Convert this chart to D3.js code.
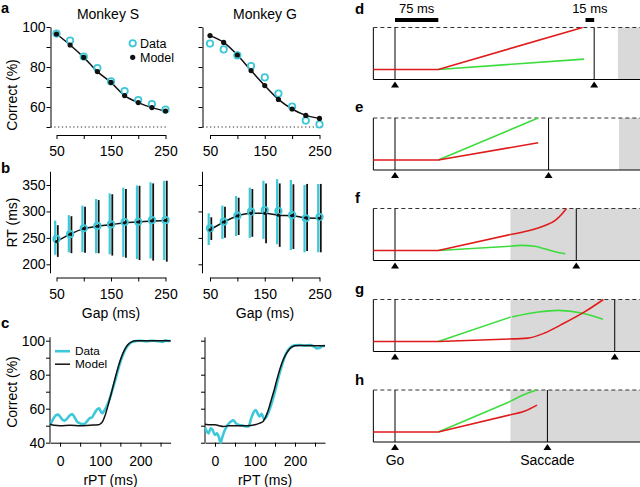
<!DOCTYPE html>
<html><head><meta charset="utf-8">
<script src="https://cdn.jsdelivr.net/npm/d3@7"></script>
<style>body{margin:0;background:#fff}svg{display:block}text{font-family:"Liberation Sans",Arial,sans-serif}</style>
</head><body><svg id="fig" width="640" height="487"></svg>
<script>
// ---------- DATA ----------
const gaps=[50,75,100,125,150,175,200,225,250];
// panel a: % correct vs gap
const aSData =[96.7,93.2,85.2,79.5,72.8,68.0,63.5,61.5,58.7];
const aSModel=[96.5,91.0,84.8,77.7,72.3,65.7,62.2,59.7,58.0];
const aGData =[91.7,88.8,85.8,80.5,74.8,66.7,60.2,53.2,51.3];
const aGModel=[95.7,92.3,86.0,78.2,70.7,63.8,59.0,55.8,54.3];
// panel b: RT mean and spread
const bSDataMean =[248,257,268,272.5,275.5,280,280.5,283.5,283.5];
const bSDataLo   =[218,222.5,223,221,219,214,210,211,208];
const bSDataHi   =[282.5,293,311,323.5,334,345,349,355,358];
const bSModelMean=[243,257,267.5,272,275,278.5,280,282,283];
const bSModelLo  =[214,221,222,221,216.5,212.5,208,207,205];
const bSModelHi  =[274,291,309,321.5,332.5,342.5,348.5,353,358];
const bGDataMean =[268,280.6,292,299.5,302.7,300.8,293,287,289.5];
const bGDataLo   =[236.5,248,253.5,250,248,238,227,222.7,222.7];
const bGDataHi   =[296.5,311,329,345,358,361,359.5,350,352];
const bGModelMean=[265,280,291.5,296.5,296.5,293,292,288,287];
const bGModelLo  =[246,250,255.4,252,240,233,229,225,222.7];
const bGModelHi  =[289,309,326,342.4,353,353,351.4,352,352];
// panel c: % correct vs rPT  [rPT, %]
const cSModel=[[-25,51],[-15,50.2],[0,50],[25,50.3],[50,50],[75,50.3],[95,50.5],[100,51],[106,52.5],[112,56],[120,62.5],[128,69.5],[136,77],[144,84],[152,90],[160,94.5],[168,97.5],[178,99.3],[190,100],[275,100]];
const cSData=[[-25,50.5],[-18,53.5],[-11,56],[-5,56.5],[1,55],[6,53.5],[11,53],[17,54],[24,56],[30,56.8],[36,55],[42,52.5],[48,51.5],[55,51],[61,51.2],[67,52.5],[73,54.3],[80,55],[86,57.5],[92,59.5],[97,60.2],[101,58.5],[105,57.3],[109,58.5],[113,60],[118,62.5],[125,67],[132,72.5],[140,79],[148,86],[156,91.5],[164,95.5],[172,98],[180,99.3],[190,99.8],[200,100],[215,99.6],[230,100],[245,99.7],[255,99.3],[262,100.2],[270,99.8],[275,100]];
const cGModel=[[-25,50.8],[-10,50.5],[0,50.5],[10,50],[21,49.5],[35,50],[60,50],[80,50],[100,50.5],[112,51.5],[120,52.5],[129,56.5],[135,60.5],[141,65.5],[148,71],[154,76.5],[160,81.5],[166,86],[172,89.5],[179,92.7],[186,95],[192,96.2],[200,97],[210,97.2],[275,97]];
const cGData=[[-25,49],[-20,46.5],[-16,45.5],[-11,48.5],[-6,47.5],[0,44.5],[5,45.5],[10,43],[14,40],[18,43],[23,46.5],[28,49],[33,50.8],[40,52.5],[46,53.2],[52,51.5],[58,50.5],[65,50.3],[71,50],[78,49.5],[84,49.6],[90,54],[96,57.7],[102,59.2],[107,57],[111,55.5],[117,57],[122,54],[128,55],[134,58],[140,62],[147,67.5],[154,74],[161,80.5],[168,86],[175,91],[183,94.5],[191,96.5],[200,97.3],[212,97.5],[225,97.2],[238,97.4],[248,96.5],[255,95.5],[262,95.8],[268,96.8],[275,97]];
// panels d-h: schematic accumulators [time from Go (ms), level (0 baseline, 1 threshold)]
const schemLabels=["d","e","f","g","h"];
const saccadeT=[345,266,314,380.6,264];
const grayStartT=[386,388,200,200,200];
const dRed=[[-37.5,0],[75,0],[325,1]];
const dGreen=[[75,0],[327.5,0.245]];
const eRed=[[-37.5,0],[75,0],[248,0.41]];
const eGreen=[[75,0],[248,1]];
const fRedLin=[[-37.5,0],[75,0],[200,0.38]];
const fRedCur=[[200,0.38],[231,0.47],[259,0.59],[277,0.71],[288,0.85],[297,1]];
const fGreenLin=[[75,0],[200,0.10]];
const fGreenCur=[[200,0.10],[219,0.12],[242,0.10],[259,0.04],[277,-0.03],[295,-0.08]];
const gRedLin=[[-37.5,0],[75,0],[200,0.06]];
const gRedCur=[[200,0.06],[230,0.08],[259,0.2],[288,0.4],[329,0.71],[361,1]];
const gGreenLin=[[75,0],[200,0.58]];
const gGreenCur=[[203,0.585],[248,0.70],[283,0.74],[323,0.68],[360,0.53]];
const hRedLin=[[-37.5,0],[75,0],[200,0.41]];
const hRedCur=[[200,0.41],[225,0.5],[246,0.64]];
const hGreenLin=[[75,0],[200,0.73]];
const hGreenCur=[[200,0.73],[222,0.88],[245,1.0]];

// ---------- DRAW ----------
const CY="#3cc8d8", BK="#111", RED="#e01b1b", GRN="#3ddc3d";
const FONT='"Liberation Sans",Arial,sans-serif';
const svg=d3.select("#fig");

function styleAxis(g,fs){
  g.attr("font-family",FONT).attr("font-size",fs||14);
  g.selectAll("path,line").attr("stroke","#000").attr("stroke-width",1);
  g.selectAll("text").attr("fill","#000");
}
function txt(x,y,s,o){
  o=o||{};
  const t=svg.append("text").attr("x",x).attr("y",y).text(s)
    .attr("font-size",o.fs||14).attr("text-anchor",o.anchor||"middle").attr("fill","#000");
  if(o.bold) t.attr("font-weight","bold");
  if(o.rot) t.attr("transform",`rotate(-90,${x},${y})`);
  return t;
}

// Panel a
function panelA(ax,xr,dataV,modelV,labels){
  const x=d3.scaleLinear().domain([50,250]).range(xr);
  const y=d3.scaleLinear().domain([50,100]).range([127,27]);
  svg.append("line").attr("x1",ax).attr("x2",xr[1]+2).attr("y1",y(50)).attr("y2",y(50))
    .attr("stroke","#222").attr("stroke-width",1.2).attr("stroke-dasharray","1.2,2.6");
  const ya=svg.append("g").attr("transform",`translate(${ax},0)`)
    .call(d3.axisLeft(y).tickValues([50,60,70,80,90,100]).tickSize(4).tickSizeOuter(0).tickPadding(1)
      .tickFormat(d=>labels&&d>=60&&d%20===0?d:""));
  styleAxis(ya);
  const xa=svg.append("g").attr("transform","translate(0,135)")
    .call(d3.axisBottom(x).tickValues([50,100,150,200,250]).tickSize(4).tickSizeOuter(0).tickPadding(7)
      .tickFormat(d=>d%100===50?d:""));
  styleAxis(xa);
  const line=d3.line().x((d,i)=>x(gaps[i])).y(d=>y(d)).curve(d3.curveMonotoneX);
  svg.append("path").datum(modelV).attr("d",line).attr("fill","none").attr("stroke",BK).attr("stroke-width",1.5);
  svg.append("g").selectAll("circle").data(dataV).join("circle")
    .attr("cx",(d,i)=>x(gaps[i])).attr("cy",d=>y(d)).attr("r",3.2)
    .attr("fill","none").attr("stroke",CY).attr("stroke-width",1.8);
  svg.append("g").selectAll("circle").data(modelV).join("circle")
    .attr("cx",(d,i)=>x(gaps[i])).attr("cy",d=>y(d)).attr("r",2.6).attr("fill",BK);
}
panelA(50.5,[56.5,165.5],aSData,aSModel,true);
panelA(202.5,[210,319.5],aGData,aGModel,false);
txt(108,19,"Monkey S");
txt(265,19,"Monkey G");
// legend a
svg.append("circle").attr("cx",132.7).attr("cy",43.3).attr("r",3.2).attr("fill","none").attr("stroke",CY).attr("stroke-width",1.8);
txt(140,47.6,"Data",{anchor:"start",fs:12.5});
svg.append("circle").attr("cx",132.7).attr("cy",57.3).attr("r",2.6).attr("fill",BK);
txt(140,61.6,"Model",{anchor:"start",fs:12.5});

// Panel b
function panelB(ax,xr,dm,dl,dh,mm,ml,mh,labels){
  const x=d3.scaleLinear().domain([50,250]).range(xr);
  const y=d3.scaleLinear().domain([200,350]).range([264.3,185]);
  const ya=svg.append("g").attr("transform",`translate(${ax},0)`)
    .call(d3.axisLeft(y).tickValues([200,250,300,350]).tickSize(4).tickSizeOuter(0).tickPadding(1)
      .tickFormat(d=>labels?d:""));
  ya.select(".domain").remove();
  styleAxis(ya);
  ya.append("line").attr("x1",0).attr("x2",0).attr("y1",y(375)).attr("y2",y(183)).attr("stroke","#000");
  const xa=svg.append("g").attr("transform","translate(0,277.5)")
    .call(d3.axisBottom(x).tickValues([50,100,150,200,250]).tickSize(4).tickSizeOuter(0).tickPadding(8)
      .tickFormat(d=>d%100===50?d:""));
  styleAxis(xa);
  const g=svg.append("g");
  g.selectAll(".cb").data(gaps).join("line").attr("x1",(d)=>x(d)-1.3).attr("x2",d=>x(d)-1.3)
    .attr("y1",(d,i)=>y(dl[i])).attr("y2",(d,i)=>y(dh[i])).attr("stroke",CY).attr("stroke-width",2.2);
  g.selectAll(".kb").data(gaps).join("line").attr("x1",(d)=>x(d)+1.3).attr("x2",d=>x(d)+1.3)
    .attr("y1",(d,i)=>y(ml[i])).attr("y2",(d,i)=>y(mh[i])).attr("stroke",BK).attr("stroke-width",1.8);
  const line=d3.line().x((d,i)=>x(gaps[i])).y(d=>y(d)).curve(d3.curveMonotoneX);
  svg.append("path").datum(mm).attr("d",line).attr("fill","none").attr("stroke",BK).attr("stroke-width",1.5);
  svg.append("g").selectAll("circle").data(dm).join("circle")
    .attr("cx",(d,i)=>x(gaps[i])).attr("cy",d=>y(d)).attr("r",3.2)
    .attr("fill","none").attr("stroke",CY).attr("stroke-width",1.8);
  svg.append("g").selectAll("circle").data(mm).join("circle")
    .attr("cx",(d,i)=>x(gaps[i])).attr("cy",d=>y(d)).attr("r",1.6).attr("fill",BK);
}
panelB(50.5,[56.5,165.5],bSDataMean,bSDataLo,bSDataHi,bSModelMean,bSModelLo,bSModelHi,true);
panelB(202.5,[210,319.5],bGDataMean,bGDataLo,bGDataHi,bGModelMean,bGModelLo,bGModelHi,false);
txt(111,318,"Gap (ms)");
txt(265,318,"Gap (ms)");

// Panel c
function panelC(xr,data,model,labels){
  const x=d3.scaleLinear().domain([-25,275]).range(xr);
  const y=d3.scaleLinear().domain([40,100]).range([442.7,340.7]);
  const ya=svg.append("g").attr("transform",`translate(${xr[0]},0)`)
    .call(d3.axisLeft(y).tickValues([40,50,60,70,80,90,100]).tickSize(4).tickSizeOuter(0).tickPadding(1)
      .tickFormat(d=>labels&&d%20===0?d:""));
  ya.select(".domain").remove();
  styleAxis(ya);
  ya.append("line").attr("x1",0).attr("x2",0).attr("y1",y(102)).attr("y2",y(40)).attr("stroke","#000");
  const xa=svg.append("g").attr("transform","translate(0,442.7)")
    .call(d3.axisBottom(x).tickValues([0,50,100,150,200,250]).tickSize(4).tickSizeOuter(0).tickPadding(9)
      .tickFormat(d=>d%100===0?d:""));
  styleAxis(xa);
  const line=d3.line().x(d=>x(d[0])).y(d=>y(d[1])).curve(d3.curveMonotoneX);
  svg.append("path").datum(data).attr("d",line).attr("fill","none").attr("stroke",CY).attr("stroke-width",2.6);
  svg.append("path").datum(model).attr("d",line).attr("fill","none").attr("stroke",BK).attr("stroke-width",1.5);
}
panelC([50,170.6],cSData,cSModel,true);
panelC([205,325],cGData,cGModel,false);
txt(110.5,485,"rPT (ms)");
txt(265,485,"rPT (ms)");
// legend c
svg.append("line").attr("x1",55).attr("x2",70).attr("y1",351.2).attr("y2",351.2).attr("stroke",CY).attr("stroke-width",2.6);
txt(75,355.2,"Data",{anchor:"start",fs:11.8});
svg.append("line").attr("x1",55).attr("x2",70).attr("y1",364.2).attr("y2",364.2).attr("stroke",BK).attr("stroke-width",1.5);
txt(75,368.2,"Model",{anchor:"start",fs:11.8});

// y labels
txt(16.5,95,"Correct (%)",{rot:true});
txt(16.5,222.5,"RT (ms)",{rot:true});
txt(16.5,392,"Correct (%)",{rot:true});
// panel letters a-c
txt(1,13,"a",{anchor:"start",bold:true,fs:14.5});
txt(1,173,"b",{anchor:"start",bold:true,fs:15});
txt(1,328,"c",{anchor:"start",bold:true,fs:15});

// Schematic panels d-h
const xs=d3.scaleLinear().domain([0,75]).range([395,438.3]);
const tops=[27.5,118,208.5,299.5,390];
const letterY=[14,112,203,294,385];
const traces=[
  {lin:[[dGreen,GRN],[dRed,RED]],cur:[]},
  {lin:[[eGreen,GRN],[eRed,RED]],cur:[]},
  {lin:[[fGreenLin,GRN],[fRedLin,RED]],cur:[[fGreenCur,GRN],[fRedCur,RED]]},
  {lin:[[gGreenLin,GRN],[gRedLin,RED]],cur:[[gGreenCur,GRN],[gRedCur,RED]]},
  {lin:[[hGreenLin,GRN],[hRedLin,RED]],cur:[[hGreenCur,GRN],[hRedCur,RED]]}
];
const boxL=xs(-37.5);
schemLabels.forEach((lab,i)=>{
  const top=tops[i], bot=top+52;
  const ys=d3.scaleLinear().domain([-0.24,1]).range([bot,top]);
  const g=svg.append("g");
  g.append("rect").attr("x",xs(grayStartT[i])).attr("y",top).attr("width",640-xs(grayStartT[i])).attr("height",bot-top).attr("fill","#d9d9d9");
  g.append("line").attr("x1",boxL).attr("x2",boxL).attr("y1",top).attr("y2",bot).attr("stroke","#000");
  g.append("line").attr("x1",boxL).attr("x2",640).attr("y1",bot).attr("y2",bot).attr("stroke","#000");
  g.append("line").attr("x1",boxL).attr("x2",640).attr("y1",top).attr("y2",top).attr("stroke","#333").attr("stroke-dasharray","4,3");
  [0,saccadeT[i]].forEach(t=>{
    const X=xs(t);
    g.append("line").attr("x1",X).attr("x2",X).attr("y1",top).attr("y2",bot).attr("stroke","#000");
    g.append("path").attr("d",`M${X},${bot+2}L${X+4},${bot+8}L${X-4},${bot+8}Z`).attr("fill","#000");
  });
  const lin=d3.line().x(d=>xs(d[0])).y(d=>ys(d[1]));
  const cur=d3.line().x(d=>xs(d[0])).y(d=>ys(d[1])).curve(d3.curveMonotoneX);
  traces[i].lin.forEach(([pts,c])=>g.append("path").datum(pts).attr("d",lin).attr("fill","none").attr("stroke",c).attr("stroke-width",1.6));
  traces[i].cur.forEach(([pts,c])=>g.append("path").datum(pts).attr("d",cur).attr("fill","none").attr("stroke",c).attr("stroke-width",1.6));
  txt(355,letterY[i],lab,{anchor:"start",bold:true,fs:15});
});
// scale bars
svg.append("rect").attr("x",xs(0)).attr("y",18).attr("width",xs(75)-xs(0)).attr("height",4).attr("fill","#000");
svg.append("rect").attr("x",xs(saccadeT[0]-15)).attr("y",18).attr("width",xs(15)-xs(0)).attr("height",4).attr("fill","#000");
txt(xs(37.5),13,"75 ms",{fs:13});
txt(xs(saccadeT[0]-7.5),13,"15 ms",{fs:13});
txt(xs(0),465,"Go",{fs:14});
txt(xs(saccadeT[4]),465,"Saccade",{fs:14});
</script></body></html>
